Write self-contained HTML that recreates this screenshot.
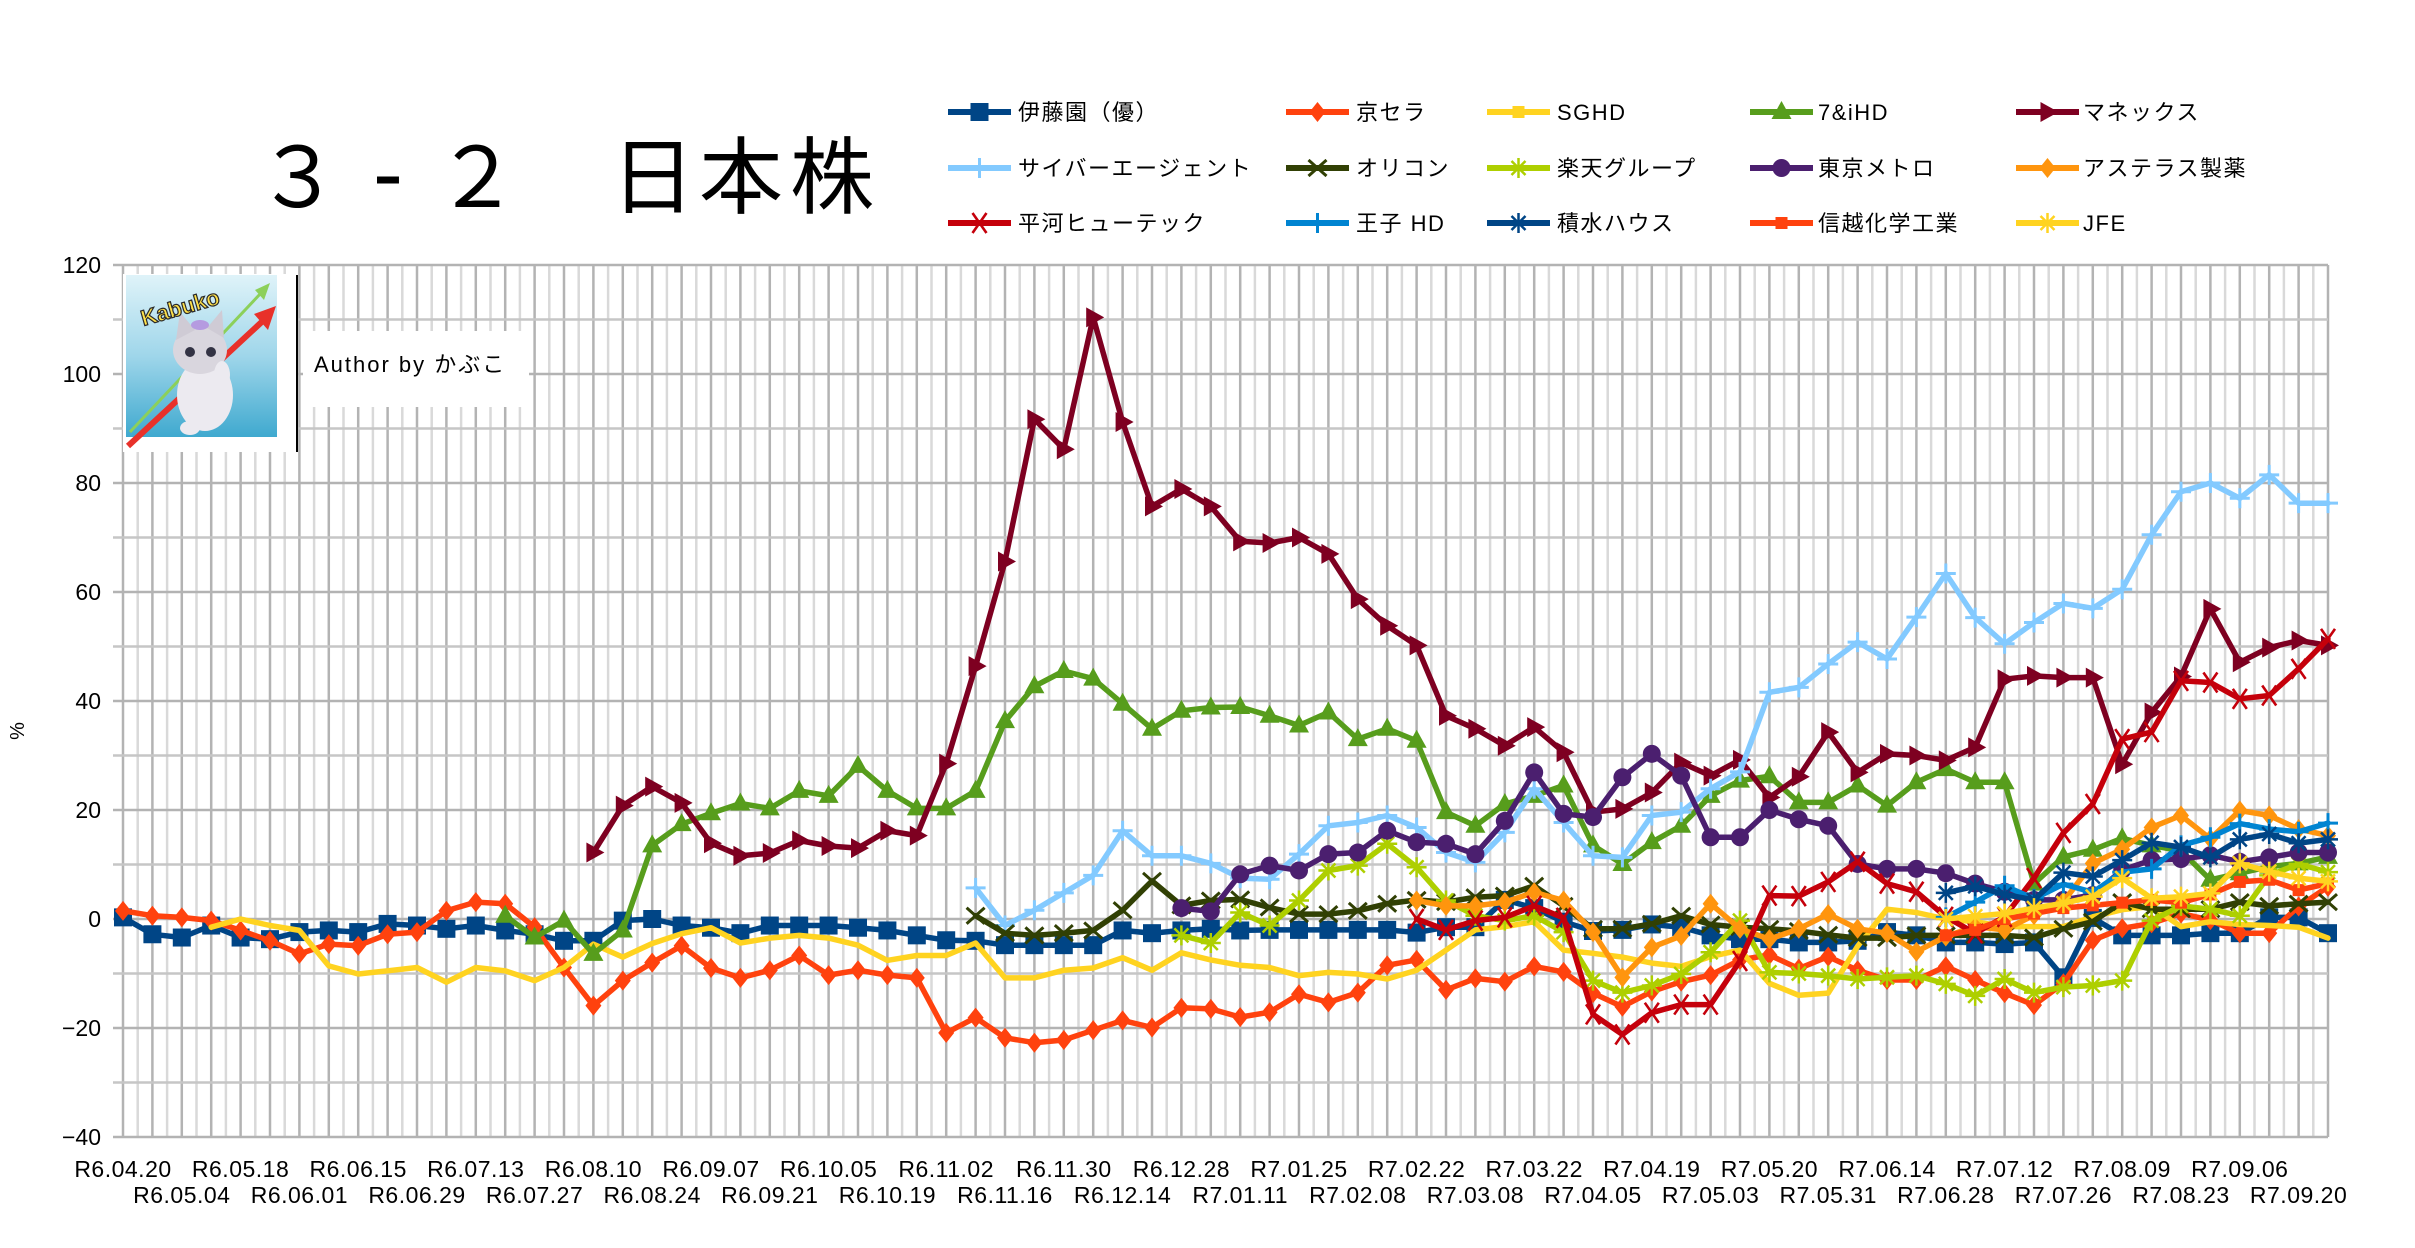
<!DOCTYPE html>
<html><head><meta charset="utf-8"><style>
html,body{margin:0;padding:0;background:#fff}
body{width:2415px;height:1248px;overflow:hidden}
svg{display:block}
.ax{font-family:"Liberation Sans","Noto Sans CJK JP",sans-serif;font-size:23px;fill:#000}
.lg{font-family:"Liberation Sans","Noto Sans CJK JP",sans-serif;font-size:22px;fill:#000;letter-spacing:1.5px}
.tt{font-family:"Noto Sans CJK JP","Liberation Sans",sans-serif;font-size:84px;fill:#000}
</style></head><body>
<svg id="c" xmlns="http://www.w3.org/2000/svg" width="2415" height="1248" viewBox="0 0 2415 1248">
<rect x="0" y="0" width="2415" height="1248" fill="#fff"/>
<g id="grid"></g>
<g id="logo">
  <rect x="123" y="274" width="174" height="178" fill="#fff"/>
  <defs>
    <linearGradient id="sky" x1="0" y1="0" x2="0" y2="1">
      <stop offset="0" stop-color="#dff3f9"/>
      <stop offset="0.5" stop-color="#9fd6ea"/>
      <stop offset="1" stop-color="#3fa9cf"/>
    </linearGradient>
  </defs>
  <rect x="126" y="275" width="151" height="162" fill="url(#sky)"/>
  <line x1="130" y1="432" x2="262" y2="292" stroke="#8cd05a" stroke-width="3"/>
  <polygon points="270,283 255,290 264,300" fill="#8cd05a"/>
  <line x1="128" y1="446" x2="266" y2="318" stroke="#e8312a" stroke-width="6"/>
  <polygon points="276,306 254,314 268,330" fill="#e8312a"/>
  <ellipse cx="205" cy="395" rx="28" ry="36" fill="#eceaf0"/>
  <ellipse cx="200" cy="350" rx="27" ry="24" fill="#d9d6de"/>
  <polygon points="176,340 180,312 195,330" fill="#cfcbd5"/>
  <polygon points="224,338 222,310 207,328" fill="#cfcbd5"/>
  <circle cx="190" cy="352" r="5" fill="#334"/>
  <circle cx="211" cy="352" r="5" fill="#334"/>
  <ellipse cx="200" cy="325" rx="9" ry="5" fill="#b59be0"/>
  <ellipse cx="222" cy="375" rx="8" ry="14" fill="#eceaf0"/>
  <ellipse cx="190" cy="428" rx="10" ry="7" fill="#eceaf0"/>
  <text x="140" y="318" transform="rotate(-16 170 310)" font-family="Liberation Sans,sans-serif" font-weight="bold" font-size="22" fill="#ffe14a" stroke="#2a2a2a" stroke-width="1.2">Kabuko</text>
  <line x1="297" y1="275" x2="297" y2="452" stroke="#000" stroke-width="2"/>
  <rect x="303" y="331" width="226" height="76" fill="#fff"/>
  <text x="314" y="372" class="ax" style="font-size:22px;letter-spacing:2px">Author by かぶこ</text>
</g>
<g id="series"></g>

<!-- title -->
<g class="tt" text-anchor="middle">
  <text x="298" y="207">３</text>
  <text x="388" y="204" style="font-family:'Liberation Sans',sans-serif;font-size:90px">-</text>
  <text x="477" y="207">２</text>
  <text x="653" y="207">日</text>
  <text x="741" y="207">本</text>
  <text x="832" y="207">株</text>
</g>

<!-- legend text -->
<g class="lg">
  <text x="1018" y="120">伊藤園（優）</text>
  <text x="1356" y="120">京セラ</text>
  <text x="1557" y="120">SGHD</text>
  <text x="1818" y="120">7&amp;iHD</text>
  <text x="2083" y="120">マネックス</text>
  <text x="1018" y="176">サイバーエージェント</text>
  <text x="1356" y="176">オリコン</text>
  <text x="1557" y="176">楽天グループ</text>
  <text x="1818" y="176">東京メトロ</text>
  <text x="2083" y="176">アステラス製薬</text>
  <text x="1018" y="231">平河ヒューテック</text>
  <text x="1356" y="231">王子 HD</text>
  <text x="1557" y="231">積水ハウス</text>
  <text x="1818" y="231">信越化学工業</text>
  <text x="2083" y="231">JFE</text>
</g>
<g id="legend"></g>

<!-- y axis labels -->
<g class="ax" text-anchor="end">
  <text x="101" y="273">120</text>
  <text x="101" y="382">100</text>
  <text x="101" y="491">80</text>
  <text x="101" y="600">60</text>
  <text x="101" y="709">40</text>
  <text x="101" y="818">20</text>
  <text x="101" y="927">0</text>
  <text x="101" y="1036">−20</text>
  <text x="101" y="1145">−40</text>
</g>
<text class="ax" transform="translate(24,731) rotate(-90)" text-anchor="middle" style="font-size:20px">%</text>

<!-- x axis labels -->
<g class="ax" text-anchor="middle" style="letter-spacing:0.5px">
  <text x="123" y="1177">R6.04.20</text>
  <text x="240.6" y="1177">R6.05.18</text>
  <text x="358.2" y="1177">R6.06.15</text>
  <text x="475.8" y="1177">R6.07.13</text>
  <text x="593.4" y="1177">R6.08.10</text>
  <text x="711" y="1177">R6.09.07</text>
  <text x="828.6" y="1177">R6.10.05</text>
  <text x="946.2" y="1177">R6.11.02</text>
  <text x="1063.8" y="1177">R6.11.30</text>
  <text x="1181.4" y="1177">R6.12.28</text>
  <text x="1299" y="1177">R7.01.25</text>
  <text x="1416.6" y="1177">R7.02.22</text>
  <text x="1534.2" y="1177">R7.03.22</text>
  <text x="1651.8" y="1177">R7.04.19</text>
  <text x="1769.4" y="1177">R7.05.20</text>
  <text x="1887" y="1177">R7.06.14</text>
  <text x="2004.6" y="1177">R7.07.12</text>
  <text x="2122.2" y="1177">R7.08.09</text>
  <text x="2239.8" y="1177">R7.09.06</text>
  <text x="181.8" y="1203">R6.05.04</text>
  <text x="299.4" y="1203">R6.06.01</text>
  <text x="417" y="1203">R6.06.29</text>
  <text x="534.6" y="1203">R6.07.27</text>
  <text x="652.2" y="1203">R6.08.24</text>
  <text x="769.8" y="1203">R6.09.21</text>
  <text x="887.4" y="1203">R6.10.19</text>
  <text x="1005" y="1203">R6.11.16</text>
  <text x="1122.6" y="1203">R6.12.14</text>
  <text x="1240.2" y="1203">R7.01.11</text>
  <text x="1357.8" y="1203">R7.02.08</text>
  <text x="1475.4" y="1203">R7.03.08</text>
  <text x="1593" y="1203">R7.04.05</text>
  <text x="1710.6" y="1203">R7.05.03</text>
  <text x="1828.2" y="1203">R7.05.31</text>
  <text x="1945.8" y="1203">R7.06.28</text>
  <text x="2063.4" y="1203">R7.07.26</text>
  <text x="2181" y="1203">R7.08.23</text>
  <text x="2298.6" y="1203">R7.09.20</text>
</g>
</svg>
<script>
(function(){
var NS='http://www.w3.org/2000/svg';
function el(tag,a,p){var e=document.createElementNS(NS,tag);for(var k in a)e.setAttribute(k,a[k]);p.appendChild(e);return e;}
var X0=123,DX=29.4,Y0=919,DY=5.45,N=76;
function px(i){return X0+DX*i;}
function py(v){return Y0-DY*v;}
var grid=document.getElementById('grid');
for(var k=0;k<=150;k++){
  var x=X0+14.7*k;
  el('line',{x1:x,y1:265,x2:x,y2:1137,stroke:(k%2==0?'#b3b3b3':'#d9d9d9'),'stroke-width':2.5},grid);
}
for(var v=-40;v<=120;v+=10){
  var y=py(v);
  el('line',{x1:113,y1:y,x2:2328,y2:y,stroke:(v%20==0?'#b3b3b3':'#c6c6c6'),'stroke-width':2.6},grid);
}
function S(start,arr){var a=[];for(var i=0;i<start;i++)a.push(null);a=a.concat(arr);while(a.length<N)a.push(null);return a;}
var series=[
 {c:'#004586',m:'sq',d:S(0,[0.3,-2.8,-3.4,-1.2,-3.4,-3.7,-2.4,-2.1,-2.4,-0.9,
  -1.2,-1.8,-1.2,-2.1,-2.8,-4.0,-4.0,-0.3,0,-1.2,
  -1.6,-2.6,-1.2,-1.2,-1.2,-1.6,-2.1,-3.0,-3.9,-4.0,
  -4.8,-4.8,-4.8,-4.8,-2.1,-2.6,-2.1,-1.8,-2.1,-2.0,
  -2.0,-2.0,-2.0,-2.0,-2.5,-1.5,-1.5,3.5,2.0,-0.5,
  -2.2,-2.0,-1.0,-1.5,-3.0,-3.7,-3.7,-4.3,-4.3,-4.0,
  -2.4,-3.0,-4.3,-4.3,-4.6,-4.3,-10.7,0.2,-3.0,-3.0,
  -3.0,-2.6,-2.6,0.3,0.3,-2.6])},
 {c:'#ff420e',m:'dia',d:S(0,[1.5,0.6,0.3,-0.3,-2.1,-4.0,-6.4,-4.6,-4.9,-2.8,
  -2.4,1.5,3.1,2.8,-1.5,-8.9,-15.9,-11.3,-8.0,-4.9,
  -9.0,-10.8,-9.4,-6.7,-10.3,-9.4,-10.3,-10.8,-20.9,-18.1,
  -21.8,-22.7,-22.2,-20.4,-18.6,-19.9,-16.3,-16.5,-18.0,-17.1,
  -13.8,-15.3,-13.5,-8.5,-7.5,-13.0,-10.9,-11.5,-8.7,-9.7,
  -13.6,-16.1,-13.3,-11.5,-10.3,-7.5,-6.6,-9.1,-6.9,-9.4,
  -11.2,-11.2,-8.7,-11.2,-13.6,-15.8,-11.8,-3.9,-1.7,-0.8,
  1.0,-0.2,-2.6,-2.6,2.3,5.9])},
 {c:'#ffd320',m:'none',d:S(3,[-1.5,0,-1.2,-2.1,-8.6,-10.1,-9.5,
  -8.9,-11.6,-8.9,-9.5,-11.3,-8.9,-4.6,-7.0,-4.5,-2.7,
  -1.6,-4.4,-3.5,-3.0,-3.5,-4.8,-7.6,-6.7,-6.7,-4.4,
  -10.8,-10.8,-9.4,-9.0,-7.1,-9.4,-6.2,-7.5,-8.5,-8.9,
  -10.4,-9.8,-10.1,-11.0,-9.4,-5.7,-2.0,-1.4,-0.5,-5.7,
  -6.3,-7.0,-8.1,-8.7,-6.9,-5.7,-11.8,-14.0,-13.6,-5.0,
  1.8,1.2,0.0,-0.5,-1.4,-1.4,-1.4,0.4,1.7,2.3,
  -1.4,-0.5,-1.0,-1.2,-1.5,-3.5])},
 {c:'#579d1c',m:'tri',d:S(13,[0.6,-3.4,-0.3,-6.4,-2.1,13.5,17.4,
  19.4,21.2,20.3,23.5,22.6,28.1,23.5,20.3,20.3,23.5,
  36.3,42.7,45.5,44.1,39.5,34.9,38.2,38.8,38.9,37.3,
  35.5,37.9,33.0,34.9,32.7,19.6,17.1,21.1,22.6,24.5,
  13.5,10.1,14.1,17.1,22.6,25.4,26.2,21.4,21.4,24.5,
  20.8,25.1,27.5,25.1,25.1,6.5,11.4,12.7,14.8,13.5,
  12.5,7.2,8.4,9.6,10.2,11.4])},
 {c:'#7e0021',m:'rtri',d:S(16,[12.2,20.8,24.3,21.3,
  13.9,11.6,12.1,14.4,13.4,13.0,16.2,15.3,28.5,46.4,
  65.6,91.7,86.2,110.4,91.2,75.7,78.9,75.7,69.3,69.0,
  70.0,67.0,58.7,53.8,50.2,37.3,34.9,31.8,35.2,30.6,
  19.6,20.2,23.2,28.7,26.3,29.2,22.3,26.1,34.3,26.9,
  30.3,30.0,29.1,31.5,44.0,44.6,44.3,44.3,28.4,37.9,
  44.5,56.9,47.1,49.8,51.1,50.2])},
 {c:'#83caff',m:'plus',d:S(29,[5.7,
  -1.2,1.6,4.8,8.0,16.2,11.6,11.6,10.2,7.5,7.3,
  11.9,17.1,17.7,19.0,16.8,12.2,10.4,15.9,23.9,17.7,
  11.6,11.3,19.0,19.6,23.9,27.0,41.6,42.5,46.8,50.8,
  47.7,55.4,63.4,55.3,50.5,54.4,57.9,57.0,60.5,70.5,
  78.4,80.0,77.2,81.5,76.3,76.3])},
 {c:'#314004',m:'x',d:S(29,[0.6,
  -2.6,-3.0,-2.6,-2.1,1.6,7.0,2.5,3.4,3.6,2.1,
  0.9,0.9,1.5,2.8,3.5,3.1,4.0,4.3,6.1,2.4,
  -1.8,-1.8,-0.9,0.6,-1.0,-1.5,-1.8,-2.2,-2.9,-3.5,
  -3.5,-3.0,-3.0,-3.0,-3.0,-3.4,-1.8,-0.5,3.1,1.8,
  1.8,1.8,3.1,2.4,2.8,3.1])},
 {c:'#aecf00',m:'star',d:S(36,[-3.0,-4.4,1.2,-1.2,
  3.4,8.9,9.8,13.8,9.5,3.4,0.6,-0.3,0.6,-2.4,
  -11.3,-13.5,-12.2,-10.1,-6.1,-0.3,-9.8,-10.0,-10.4,-11.0,
  -10.7,-10.4,-11.9,-14.1,-11.0,-13.5,-12.5,-12.2,-11.3,-0.3,
  2.4,1.8,0.6,8.0,10.1,8.6])},
 {c:'#4b1f6f',m:'circ',d:S(36,[2.0,1.4,8.2,9.8,
  8.9,11.9,12.2,16.2,14.1,13.8,11.9,18.0,26.9,19.3,
  18.7,26.0,30.3,26.3,15.0,15.0,20.0,18.3,17.1,10.1,
  9.2,9.2,8.4,6.5,5.0,3.5,3.5,4.4,9.0,10.8,
  11.0,11.7,10.5,11.3,12.2,12.2])},
 {c:'#ff950e',m:'dia',d:S(44,[3.4,2.4,2.4,3.1,4.9,3.4,
  -2.4,-10.7,-5.2,-3.1,2.8,-1.8,-3.7,-1.8,0.9,-1.8,
  -2.6,-6.0,-3.2,-1.4,-2.0,0.7,3.2,10.2,12.8,16.8,
  19.0,14.7,19.9,19.0,16.5,15.3])},
 {c:'#c5000b',m:'hx',d:S(44,[0.0,-2.0,-0.3,0.3,2.4,0.2,
  -17.5,-21.2,-17.2,-15.7,-15.7,-7.7,4.3,4.2,6.8,10.5,
  6.5,5.0,0.4,-2.6,0.4,7.5,15.8,21.1,33.0,34.3,
  43.7,43.4,40.4,41.0,45.9,51.4])},
 {c:'#0084d1',m:'plus',d:S(62,[0.3,3.1,6.1,3.7,6.4,4.9,8.6,9.2,13.5,15.0,17.5,16.5,16.0,17.6])},
 {c:'#004586',m:'star',d:S(62,[4.8,6.0,4.5,3.5,8.5,7.8,10.8,14.0,13.2,11.3,14.6,15.6,13.9,14.6])},
 {c:'#ff420e',m:'sqs',d:S(62,[-3,-2,0,1,2,2.5,3,3.5,3,4.5,6.8,7.2,5.3,6.5])},
 {c:'#ffd320',m:'star',d:S(62,[0,0.5,1,2,2.9,4.1,7.5,3.8,4.1,4.7,10.2,8.7,7.5,6.9])}
];
function mk(g,t,x,y,c){
  if(t=='sq'){el('rect',{x:x-9,y:y-9,width:18,height:18,fill:c},g);}
  else if(t=='sqs'){el('rect',{x:x-6,y:y-6,width:12,height:12,fill:c},g);}
  else if(t=='dia'){el('polygon',{points:(x)+','+(y-10)+' '+(x+8)+','+y+' '+x+','+(y+10)+' '+(x-8)+','+y,fill:c},g);}
  else if(t=='tri'){el('polygon',{points:x+','+(y-11)+' '+(x+10)+','+(y+7)+' '+(x-10)+','+(y+7),fill:c},g);}
  else if(t=='rtri'){el('polygon',{points:(x+11)+','+y+' '+(x-7)+','+(y-10)+' '+(x-7)+','+(y+10),fill:c},g);}
  else if(t=='plus'){el('path',{d:'M'+(x-10)+' '+y+'h20M'+x+' '+(y-10)+'v20',stroke:c,'stroke-width':3,fill:'none'},g);}
  else if(t=='x'){el('path',{d:'M'+(x-9)+' '+(y-8)+'l18 16M'+(x+9)+' '+(y-8)+'l-18 16',stroke:c,'stroke-width':3,fill:'none'},g);}
  else if(t=='hx'){el('path',{d:'M'+(x-7)+' '+(y-10)+'l14 20M'+(x+7)+' '+(y-10)+'l-14 20',stroke:c,'stroke-width':2.6,fill:'none'},g);}
  else if(t=='star'){el('path',{d:'M'+(x-10)+' '+y+'h20M'+x+' '+(y-10)+'v20M'+(x-7)+' '+(y-7)+'l14 14M'+(x+7)+' '+(y-7)+'l-14 14',stroke:c,'stroke-width':2.5,fill:'none'},g);}
  else if(t=='circ'){el('circle',{cx:x,cy:y,r:9,fill:c},g);}
}
var sg=document.getElementById('series');
series.forEach(function(s){
  var g=el('g',{},sg);
  var seg=[];
  function flush(){if(seg.length>1)el('polyline',{points:seg.join(' '),fill:'none',stroke:s.c,'stroke-width':5.5,'stroke-linejoin':'round','stroke-linecap':'round'},g);seg=[];}
  for(var i=0;i<N;i++){var v=s.d[i];if(v==null){flush();continue;}seg.push(px(i).toFixed(1)+','+py(v).toFixed(1));}
  flush();
  for(var i=0;i<N;i++){var v=s.d[i];if(v!=null)mk(g,s.m,px(i),py(v),s.c);}
});
var lg=document.getElementById('legend');
var cols=[948,1286,1487,1750,2016],rows=[112,168,223];
series.forEach(function(s,n){
  var x=cols[n%5],y=rows[Math.floor(n/5)];
  el('line',{x1:x,y1:y,x2:x+63,y2:y,stroke:s.c,'stroke-width':6},lg);
  mk(lg,s.m=='none'?'sqs':s.m,x+31.5,y,s.c);
});
})();
</script>
</body></html>
